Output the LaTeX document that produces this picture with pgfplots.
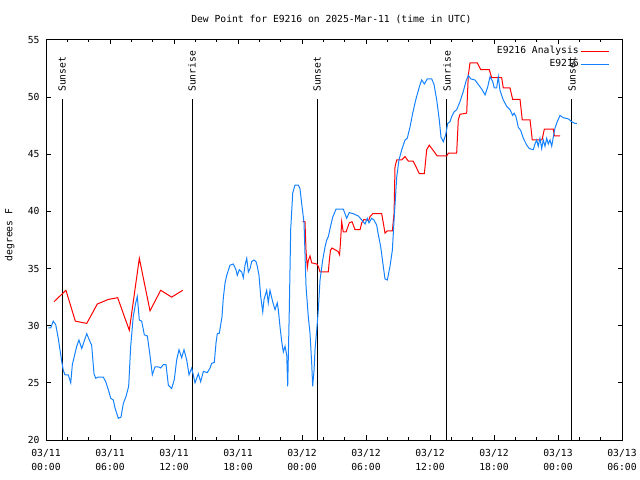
\documentclass[border=0pt]{standalone}
\usepackage{pgfplots}
\pgfplotsset{compat=1.18}
\usepackage{fontspec}
\setmainfont{DejaVu Sans Mono}
\newcommand\gfont{\fontsize{9.7bp}{14bp}\selectfont}
\definecolor{gred}{RGB}{255,0,0}
\definecolor{gblue}{RGB}{20,130,255}
\begin{document}
\begin{tikzpicture}[font=\gfont]
\useasboundingbox (0,0) rectangle (640bp,480bp);
\begin{axis}[
  at={(46bp,40bp)}, anchor=south west,
  scale only axis, width=576bp, height=400bp,
  xmin=0, xmax=54, ymin=20, ymax=55,
  axis line style={line width=1bp},
  xtick={0,6,...,54},
  minor xtick={0,2,...,54},
  xticklabels={{03/11\\00:00},{03/11\\06:00},{03/11\\12:00},{03/11\\18:00},{03/12\\00:00},{03/12\\06:00},{03/12\\12:00},{03/12\\18:00},{03/13\\00:00},{03/13\\06:00}},
  ytick={20,25,...,55},
  tick align=inside,
  major tick length=4.5bp, minor tick length=2.5bp,
  tick style={line width=1bp, black},
  /pgf/number format/assume math mode=true,
  ticklabel style={font=\gfont},
  xticklabel style={align=center, yshift=-6bp},
  yticklabel style={xshift=-3bp},
  title={Dew Point for E9216 on 2025-Mar-11 (time in UTC)},
  title style={font=\gfont, at={(axis description cs:0.4955,1)}, anchor=center, yshift=15bp},
  ylabel={degrees F},
  ylabel style={font=\gfont, at={(axis description cs:-0.063,0.5125)}, anchor=center},
  unbounded coords=jump,
  legend style={at={(axis description cs:0.979,0.988)}, anchor=north east, draw=none, fill=none,
    font=\gfont, inner sep=0pt, row sep=0pt,
    nodes={inner sep=2bp, text height=7bp, text depth=2bp}},
  legend plot pos=right,
  legend cell align=right,
  legend image code/.code={\draw[#1] (0bp,0bp) -- (28bp,0bp);},
]
% sunrise / sunset markers
\addplot[black, line width=1bp, forget plot] coordinates {(1.5,20) (1.5,49.8)};
\addplot[black, line width=1bp, forget plot] coordinates {(13.69,20) (13.69,49.8)};
\addplot[black, line width=1bp, forget plot] coordinates {(25.41,20) (25.41,49.8)};
\addplot[black, line width=1bp, forget plot] coordinates {(37.59,20) (37.59,49.8)};
\addplot[black, line width=1bp, forget plot] coordinates {(49.31,20) (49.31,49.8)};
\node[rotate=90, anchor=west, inner sep=0pt] at (axis cs:1.5,50.45) {Sunset};
\node[rotate=90, anchor=west, inner sep=0pt] at (axis cs:13.69,50.45) {Sunrise};
\node[rotate=90, anchor=west, inner sep=0pt] at (axis cs:25.41,50.45) {Sunset};
\node[rotate=90, anchor=west, inner sep=0pt] at (axis cs:37.59,50.45) {Sunrise};
\node[rotate=90, anchor=west, inner sep=0pt] at (axis cs:49.31,50.45) {Sunset};
% analysis
\addplot[gred, line width=1bp] coordinates {
(0.75,32.1)(1.87,33.1)(2.75,30.4)(3.82,30.2)(4.81,31.9)(5.84,32.3)(6.72,32.45)(7.81,29.6)(8.75,35.9)(9.75,31.3)(10.75,33.1)(11.78,32.5)(12.82,33.1)(18,nan)
(24.05,39.1)(24.28,39.1)(24.38,36.5)(24.50,35.1)(24.59,35.7)(24.75,36.1)(24.91,35.5)(25.38,35.4)(25.53,35.2)(25.69,34.7)(26.47,34.7)(26.56,35.7)(26.67,36.6)(26.81,36.8)(27.38,36.5)(27.52,36.2)(27.61,37.3)(27.72,39.1)(27.87,38.2)(28.13,38.2)(28.43,39.0)(28.69,39.1)(28.97,38.4)(29.44,38.4)(29.60,39.0)(29.81,39.3)(30.25,39.2)(30.38,39.55)(30.63,39.8)(31.47,39.8)(31.62,39.0)(31.78,38.1)(32.00,38.3)(32.47,38.3)(32.63,39.8)(32.72,43.9)(32.88,44.5)(33.35,44.5)(33.66,44.8)(33.97,44.4)(34.43,44.4)(35.00,43.3)(35.47,43.3)(35.69,45.4)(35.93,45.8)(36.25,45.4)(36.68,44.85)(37.57,44.85)(37.72,45.1)(38.50,45.1)(38.65,48.0)(38.81,48.5)(39.44,48.6)(39.59,51.9)(39.75,53.0)(40.43,53.0)(40.75,52.4)(41.56,52.4)(41.78,51.7)(42.72,51.7)(42.87,50.8)(43.50,50.8)(43.75,49.8)(44.44,49.8)(44.65,48.0)(45.38,48.0)(45.59,46.25)(46.50,46.25)(46.72,47.2)(47.56,47.2)(47.66,46.6)(48.19,46.6)
};
\addlegendentry{E9216 Analysis}
% observations
\addplot[gblue, line width=1bp] coordinates {
(0.22,29.8)(0.44,29.8)(0.68,30.4)(0.91,30.1)(1.15,28.9)(1.31,27.9)(1.47,26.9)(1.62,26.1)(1.78,25.7)(2.09,25.7)(2.32,25.0)(2.47,26.6)(2.65,27.3)(2.88,28.2)(3.09,28.75)(3.35,28.0)(3.56,28.6)(3.82,29.3)(4.13,28.6)(4.28,28.3)(4.50,25.8)(4.66,25.4)(4.90,25.5)(5.37,25.5)(5.60,25.1)(5.84,24.4)(6.07,23.65)(6.31,23.5)(6.47,22.8)(6.78,21.9)(7.03,22.0)(7.25,23.2)(7.50,23.8)(7.75,24.7)(7.94,28.2)(8.18,30.8)(8.41,32.0)(8.56,32.55)(8.75,30.5)(8.97,30.4)(9.22,29.2)(9.50,29.1)(9.75,27.4)(9.97,25.7)(10.22,26.4)(10.53,26.4)(10.75,26.3)(11.00,26.6)(11.25,26.6)(11.47,24.8)(11.78,24.5)(12.03,25.3)(12.25,27.0)(12.47,27.9)(12.72,27.2)(12.94,27.9)(13.19,27.0)(13.41,25.7)(13.66,26.3)
(13.97,25.0)(14.28,25.8)(14.50,25.1)(14.75,26.0)(15.12,25.9)(15.38,26.3)(15.53,26.7)(15.78,26.8)(15.94,28.5)(16.06,29.3)(16.25,29.35)(16.38,30.1)(16.50,30.8)(16.62,32.4)(16.78,33.7)(16.94,34.4)(17.25,35.3)(17.56,35.4)(17.81,34.9)(17.93,34.4)(18.12,34.9)(18.35,34.7)(18.50,34.2)(18.66,35.3)(18.82,35.9)(18.97,34.7)(19.13,35.0)(19.28,35.6)(19.50,35.75)(19.69,35.6)(19.81,35.2)(19.97,34.4)(20.13,32.55)(20.32,31.2)(20.44,32.3)(20.69,33.1)(20.84,32.0)(21.00,33.1)(21.25,32.1)(21.47,31.4)(21.68,32.0)(21.78,31.4)(21.94,29.9)(22.10,28.6)(22.25,27.7)(22.41,28.2)(22.57,27.4)(22.66,24.7)(22.81,31.4)(22.94,38.4)(23.13,41.6)(23.34,42.3)(23.65,42.3)(23.81,42.0)(23.97,40.7)(24.19,39.0)(24.38,33.4)(24.59,30.8)(24.75,29.35)(24.91,26.7)(25.00,24.7)(25.13,26.1)(25.22,27.9)(25.38,29.6)(25.53,31.4)(25.69,34.0)(25.94,35.75)(26.16,36.9)(26.32,37.5)(26.47,37.8)(26.63,38.5)(26.88,39.5)(27.19,40.2)(27.87,40.2)(28.19,39.4)(28.43,39.9)(28.81,39.8)(29.28,39.6)(29.60,39.25)(29.91,38.9)
(30.12,39.4)(30.28,39.0)(30.53,39.4)(30.75,39.25)(31.00,38.8)(31.15,38.0)(31.38,36.9)(31.62,35.2)(31.78,34.1)(32.00,34.0)(32.25,35.2)(32.47,36.6)(32.63,39.25)(32.88,43.0)(33.09,44.5)(33.35,45.4)(33.66,46.25)(33.87,46.4)(34.13,47.4)(34.38,48.6)(34.66,49.75)(35.00,50.9)(35.22,51.5)(35.47,51.15)(35.75,51.6)(36.16,51.6)(36.38,51.1)(36.63,49.75)(36.87,48.0)(37.03,46.5)(37.25,46.1)(37.47,46.7)(37.66,47.7)(37.88,47.85)(38.03,48.3)(38.25,48.7)(38.50,48.9)(38.81,49.6)(39.09,50.4)(39.38,51.4)(39.59,51.9)(39.82,51.6)(40.22,51.5)(40.53,51.1)(40.85,50.7)(41.16,50.2)(41.41,50.9)(41.63,51.8)(41.88,51.35)(42.03,50.8)(42.25,50.8)(42.40,51.8)(42.56,50.6)(42.87,49.75)(43.19,49.2)(43.50,48.9)(43.75,48.4)(43.88,48.6)(44.06,48.3)(44.28,47.35)(44.50,47.1)(44.75,46.4)(45.07,45.8)(45.31,45.5)(45.68,45.4)(45.84,45.9)(46.00,46.25)(46.15,45.7)(46.31,46.4)(46.47,45.5)(46.62,46.25)(46.78,45.7)(46.94,46.4)(47.09,45.9)(47.25,46.25)(47.41,45.7)(47.56,46.5)(47.72,47.3)(47.93,47.85)(48.19,48.4)(48.50,48.2)(48.97,48.1)(49.28,47.85)(49.59,47.7)(49.78,47.7)
};
\addlegendentry{E9216}
\end{axis}
\end{tikzpicture}
\end{document}
